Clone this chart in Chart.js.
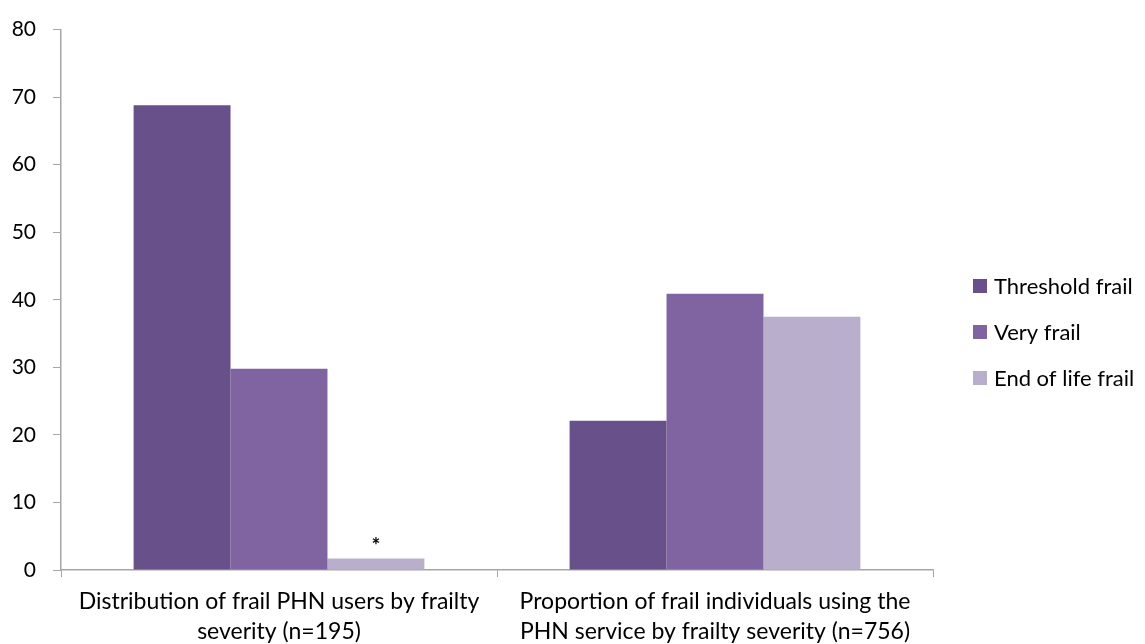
<!DOCTYPE html>
<html>
<head>
<meta charset="utf-8">
<script src="https://cdn.jsdelivr.net/npm/chart.js@4/dist/chart.umd.min.js"></script>
<style>
  html, body { margin: 0; padding: 0; background: #fff; }
  #wrap { width: 1145px; height: 644px; position: relative; }
</style>
</head>
<body>
<div id="wrap"><canvas id="chart"></canvas></div>
<script>
const categories = [
  ['Distribution of frail PHN users by frailty', 'severity (n=195)'],
  ['Proportion of frail individuals using the', 'PHN service by frailty severity (n=756)'],
];
const seriesNames = ['Threshold frail', 'Very frail', 'End of life frail'];
const thresholdFrail = [68.8, 22.1];
const veryFrail = [29.8, 40.9];
const endOfLifeFrail = [1.7, 37.5];
const colors = ['#68518a', '#8064a2', '#b9aecb'];
const yTicks = [0, 10, 20, 30, 40, 50, 60, 70, 80];

const fontFamily = 'Lato, "Open Sans", sans-serif';

// asterisk above the small end-of-life bar
const starPlugin = {
  id: 'star',
  afterDatasetsDraw(chart) {
    const bar = chart.getDatasetMeta(2).data[0];
    const ctx = chart.ctx;
    ctx.save();
    ctx.fillStyle = '#000';
    ctx.font = 'bold 21px ' + fontFamily;
    ctx.textAlign = 'center';
    ctx.textBaseline = 'middle';
    ctx.fillText('*', bar.x, bar.y - 12);
    ctx.restore();
  },
};

// legend drawn at the right like the original
const sideLegend = {
  id: 'sideLegend',
  afterDraw(chart) {
    const ctx = chart.ctx;
    ctx.save();
    ctx.font = '22px ' + fontFamily;
    ctx.textBaseline = 'middle';
    chart.data.datasets.forEach((ds, i) => {
      const y = 286 + i * 46;
      ctx.fillStyle = ds.backgroundColor;
      ctx.fillRect(973, y - 7, 14, 14);
      ctx.fillStyle = '#000';
      ctx.fillText(ds.label, 994, y + 1);
    });
    ctx.restore();
  },
};

new Chart(document.getElementById('chart'), {
  type: 'bar',
  data: {
    labels: categories,
    datasets: [
      { label: seriesNames[0], data: thresholdFrail, backgroundColor: colors[0] },
      { label: seriesNames[1], data: veryFrail, backgroundColor: colors[1] },
      { label: seriesNames[2], data: endOfLifeFrail, backgroundColor: colors[2] },
    ],
  },
  options: {
    responsive: true,
    maintainAspectRatio: false,
    animation: false,
    layout: { padding: { top: 28, right: 212, left: 0, bottom: 0 } },
    datasets: { bar: { categoryPercentage: 0.667, barPercentage: 1 } },
    plugins: {
      legend: { display: false },
      tooltip: { enabled: false },
    },
    scales: {
      x: {
        grid: {
          offset: true,
          drawOnChartArea: false,
          color: '#a6a6a6',
          tickLength: 7,
        },
        border: { color: '#a6a6a6', width: 1.5 },
        ticks: {
          color: '#000',
          font: { family: fontFamily, size: 23, lineHeight: 1.3 },
          maxRotation: 0,
          padding: 10,
        },
        afterFit(scale) { scale.height = 74; },
      },
      y: {
        min: 0,
        max: 80,
        afterBuildTicks(scale) { scale.ticks = yTicks.map((v) => ({ value: v })); },
        grid: {
          drawOnChartArea: false,
          color: '#a6a6a6',
          tickLength: 8,
        },
        border: { color: '#a6a6a6', width: 1.5 },
        ticks: {
          color: '#000',
          font: { family: fontFamily, size: 21 },
          padding: 17,
        },
        afterFit(scale) { scale.width = 61; },
      },
    },
  },
  plugins: [starPlugin, sideLegend],
});
</script>
</body>
</html>
